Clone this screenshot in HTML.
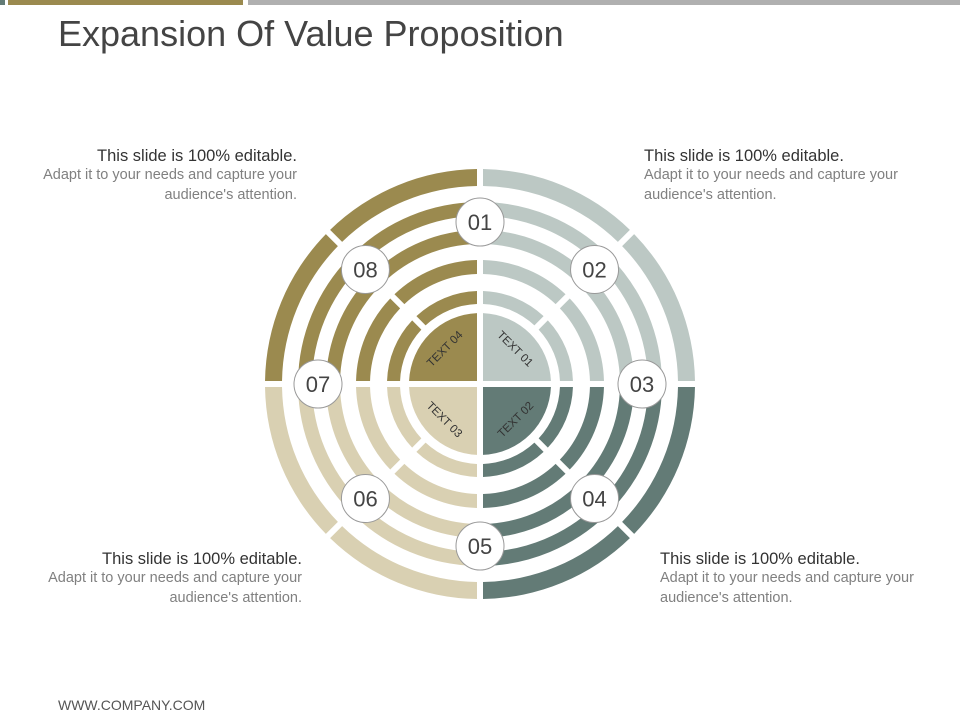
<!DOCTYPE html>
<html><head><meta charset="utf-8">
<style>
body{margin:0;width:960px;height:720px;background:#fff;font-family:"Liberation Sans",Arial,sans-serif;position:relative;overflow:hidden}
.t{position:absolute;width:260px;line-height:19.5px}
.t h4{margin:0;font-weight:normal;font-size:16.5px;color:#333;line-height:20px}
.t p{margin:0;font-size:14.5px;color:#808080}
.r{text-align:right}
</style></head><body>
<div style="position:absolute;left:0;top:0;width:5px;height:5px;background:#637b76"></div>
<div style="position:absolute;left:8px;top:0;width:235px;height:5px;background:#9b8a4f"></div>
<div style="position:absolute;left:248px;top:0;width:712px;height:5px;background:#b0b0b0"></div>
<div style="position:absolute;left:58px;top:13px;font-size:36px;color:#444">Expansion Of Value Proposition</div>

<div class="t r" style="left:37px;top:146px"><h4>This slide is 100% editable.</h4><p>Adapt it to your needs and capture your audience's attention.</p></div>
<div class="t" style="left:644px;top:146px"><h4>This slide is 100% editable.</h4><p>Adapt it to your needs and capture your audience's attention.</p></div>
<div class="t r" style="left:42px;top:549px"><h4>This slide is 100% editable.</h4><p>Adapt it to your needs and capture your audience's attention.</p></div>
<div class="t" style="left:660px;top:549px"><h4>This slide is 100% editable.</h4><p>Adapt it to your needs and capture your audience's attention.</p></div>

<div style="position:absolute;left:58px;top:697px;font-size:14px;color:#555">WWW.COMPANY.COM</div>

<svg id="wheel" width="960" height="720" style="position:absolute;left:0;top:0"></svg>
<script>
const quadColors=["#bcc8c4","#637b76","#d9d0b2","#9b8a4f"];
const quadLabels=["TEXT 01","TEXT 02","TEXT 03","TEXT 04"];
const ringInner=[80,110,140,168,198];
const ringOuter=[93,124,154,182,215];
const badgeLabels=["01","02","03","04","05","06","07","08"];
const cx=480,cy=384,coreR=71,gap=6,badgeR=162;
const svg=document.getElementById('wheel');
const NS="http://www.w3.org/2000/svg";
function pt(r,a){const t=(a-90)*Math.PI/180;return [cx+r*Math.cos(t),cy+r*Math.sin(t)];}
function sector(r0,r1,a0,a1){
  // offset angles by gap in pixels
  const d0=(gap/2)/r1*180/Math.PI, d0i=r0>0?(gap/2)/r0*180/Math.PI:0;
  const p1=pt(r1,a0+d0),p2=pt(r1,a1-d0);
  let s=`M${p1[0]},${p1[1]} A${r1},${r1} 0 0 1 ${p2[0]},${p2[1]} `;
  if(r0>0){const p3=pt(r0,a1-d0i),p4=pt(r0,a0+d0i);s+=`L${p3[0]},${p3[1]} A${r0},${r0} 0 0 0 ${p4[0]},${p4[1]} Z`;}
  else{const c=[cx+(a0<180?1:-1)*gap/2*((a0==0||a0==90)?1:1),cy];s+=`L${cx},${cy} Z`;}
  return s;
}
for(let q=0;q<4;q++){
  const a0=q*90;
  // core
  const c=document.createElementNS(NS,'path');
  c.setAttribute('d',sector(0,coreR,a0,a0+90));
  c.setAttribute('fill',quadColors[q]);
  
  
  svg.appendChild(c);
  for(let i=0;i<ringInner.length;i++){
    for(let h=0;h<2;h++){
      const p=document.createElementNS(NS,'path');
      p.setAttribute('d',sector(ringInner[i],ringOuter[i],a0+h*45,a0+h*45+45));
      p.setAttribute('fill',quadColors[q]);
      
      
      svg.appendChild(p);
    }
  }
}
// white cross lines for clean separation
[[cx,cy-230,cx,cy+230],[cx-230,cy,cx+230,cy]].forEach(l=>{
  const ln=document.createElementNS(NS,'line');
  ln.setAttribute('x1',l[0]);ln.setAttribute('y1',l[1]);ln.setAttribute('x2',l[2]);ln.setAttribute('y2',l[3]);
  ln.setAttribute('stroke','#fff');ln.setAttribute('stroke-width',gap);
  
  
  svg.appendChild(ln);
});
// quadrant text labels
const labelRot=[45,-45,45,-45];
quadLabels.forEach((t,q)=>{
  const a=q*90+45;const p=pt(50,a);
  const tx=document.createElementNS(NS,'text');
  tx.setAttribute('x',p[0]);tx.setAttribute('y',p[1]+4);
  tx.setAttribute('text-anchor','middle');
  tx.setAttribute('font-size','11.5');
  tx.setAttribute('fill','#333');
  tx.setAttribute('font-family','Liberation Sans, Arial, sans-serif');
  tx.setAttribute('transform',`rotate(${labelRot[q]} ${p[0]} ${p[1]})`);
  
  
  tx.textContent=t;svg.appendChild(tx);
});
// numbered badges
badgeLabels.forEach((t,i)=>{
  const p=pt(badgeR,i*45);
  const g=document.createElementNS(NS,'g');
  
  
  const ci=document.createElementNS(NS,'circle');
  ci.setAttribute('cx',p[0]);ci.setAttribute('cy',p[1]);ci.setAttribute('r',24);
  ci.setAttribute('fill','#fff');ci.setAttribute('stroke','#999');ci.setAttribute('stroke-width','1');
  g.appendChild(ci);
  const tx=document.createElementNS(NS,'text');
  tx.setAttribute('x',p[0]);tx.setAttribute('y',p[1]+8);
  tx.setAttribute('text-anchor','middle');
  tx.setAttribute('font-size','22');
  tx.setAttribute('fill','#444');
  tx.setAttribute('font-family','Liberation Sans, Arial, sans-serif');
  tx.textContent=t;g.appendChild(tx);
  svg.appendChild(g);
});
</script>
</body></html>
